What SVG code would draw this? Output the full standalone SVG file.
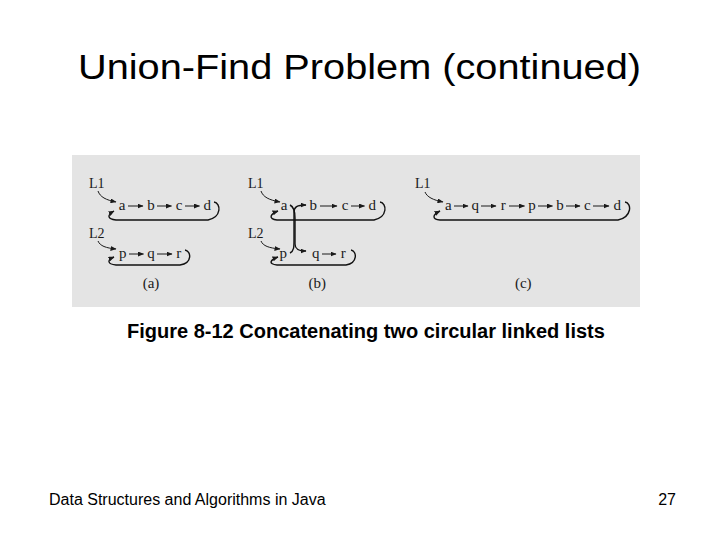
<svg xmlns="http://www.w3.org/2000/svg" width="720" height="540" viewBox="0 0 720 540">
<style>
.title{font-family:"Liberation Sans",Arial,sans-serif;font-size:35px;fill:#000}
.cap{font-family:"Liberation Sans",Arial,sans-serif;font-size:20px;font-weight:bold;fill:#000}
.foot{font-family:"Liberation Sans",Arial,sans-serif;font-size:16px;fill:#000}
.n{font-family:"Liberation Serif","Times New Roman",serif;font-size:15px;fill:#1a1a1a;text-anchor:middle}
.lbl{font-family:"Liberation Serif","Times New Roman",serif;font-size:14px;fill:#1a1a1a}
.ar{stroke:#1a1a1a;stroke-width:1;fill:none;marker-end:url(#ah)}
.lp{stroke:#111;stroke-width:1.4;fill:none;marker-end:url(#ah)}
</style>
<defs>
<marker id="ah" viewBox="0 0 6 5" refX="5.5" refY="2.5" markerWidth="6" markerHeight="5" markerUnits="userSpaceOnUse" orient="auto">
<path d="M0,0 L6,2.5 L0,5 Z" fill="#1a1a1a"/>
</marker>
</defs>
<rect width="720" height="540" fill="#fff"/>
<text class="title" x="78" y="79" textLength="563" lengthAdjust="spacingAndGlyphs">Union-Find Problem (continued)</text>
<rect id="figure-bg" x="72" y="155" width="568" height="152" fill="#e4e4e4"/>

<g id="connectors">
  <!-- panel a -->
  <path class="ar" d="M98,191 C100,197 106,200 116,202"/>
  <path class="ar" d="M128,206 L143,206"/>
  <path class="ar" d="M157,206 L171.5,206"/>
  <path class="ar" d="M185,206 L199.5,206"/>
  <path class="lp" d="M214,202 C221,203 222,217 208,220 L116,220 C107,219 107,215 114,211"/>
  <path class="ar" d="M98,241 C100,246 106,248 116,249"/>
  <path class="ar" d="M129,254 L143.5,254"/>
  <path class="ar" d="M157,254 L172,254"/>
  <path class="lp" d="M185,250 C191,251 193,263 180,265 L116,265 C107,264 107,260 114,257"/>
  <!-- panel b -->
  <path class="ar" d="M261,191 C263,197 269,200 280,202"/>
  <path class="lp" d="M290,205 C294,207 295,212 295,218 L295,244 C295,249 298,251 306,251"/>
  <path class="lp" d="M290,253 C294,251 294,247 294,240 L294,212 C294,207 297,205 306,205"/>
  <path class="ar" d="M320,206 L337,206"/>
  <path class="ar" d="M351,206 L364.5,206"/>
  <path class="lp" d="M380,202 C387,203 388,217 374,220 L277,220 C268,219 270,214 278,211"/>
  <path class="ar" d="M261,241 C263,246 269,248 280,249"/>
  <path class="ar" d="M322,254 L336,254"/>
  <path class="lp" d="M351,250 C357,251 358,263 346,265 L277,265 C268,264 270,260 278,257"/>
  <!-- panel c -->
  <path class="ar" d="M425,192 C427,197 433,200 443,202"/>
  <path class="ar" d="M454,206 L468,206"/>
  <path class="ar" d="M481,206 L496,206"/>
  <path class="ar" d="M509,206 L524.5,206"/>
  <path class="ar" d="M538,206 L552.5,206"/>
  <path class="ar" d="M566,206 L580,206"/>
  <path class="ar" d="M593,206 L609,206"/>
  <path class="lp" d="M625,202 C632,203 632,217 618,220 L440,220 C432,219 432,215 440,211"/>
</g>

<g id="panel-a">
  <g id="a-L1"><text class="lbl" x="89" y="188">L1</text></g>
  <g id="a-a"><text class="n" x="122" y="210">a</text></g>
  <g id="a-b"><text class="n" x="151" y="210">b</text></g>
  <g id="a-c"><text class="n" x="179" y="210">c</text></g>
  <g id="a-d"><text class="n" x="207.3" y="210">d</text></g>
  <g id="a-L2"><text class="lbl" x="89" y="238">L2</text></g>
  <g id="a-p"><text class="n" x="122.7" y="258">p</text></g>
  <g id="a-q"><text class="n" x="151" y="258">q</text></g>
  <g id="a-r"><text class="n" x="178.7" y="258">r</text></g>
  <text class="n" x="151" y="288">(a)</text>
</g>

<g id="panel-b">
  <g id="b-L1"><text class="lbl" x="248" y="188">L1</text></g>
  <g id="b-a"><text class="n" x="284" y="210">a</text></g>
  <g id="b-b"><text class="n" x="313.3" y="210">b</text></g>
  <g id="b-c"><text class="n" x="345" y="210">c</text></g>
  <g id="b-d"><text class="n" x="372.3" y="210">d</text></g>
  <g id="b-L2"><text class="lbl" x="248" y="238">L2</text></g>
  <g id="b-p"><text class="n" x="283.3" y="258">p</text></g>
  <g id="b-q"><text class="n" x="315.7" y="258">q</text></g>
  <g id="b-r"><text class="n" x="343.3" y="258">r</text></g>
  <text class="n" x="317.3" y="288">(b)</text>
</g>

<g id="panel-c">
  <g id="c-L1"><text class="lbl" x="415" y="188">L1</text></g>
  <g id="c-a"><text class="n" x="448.3" y="210">a</text></g>
  <g id="c-q"><text class="n" x="475.3" y="210">q</text></g>
  <g id="c-r"><text class="n" x="503.3" y="210">r</text></g>
  <g id="c-p"><text class="n" x="532" y="210">p</text></g>
  <g id="c-b"><text class="n" x="560" y="210">b</text></g>
  <g id="c-c"><text class="n" x="587.3" y="210">c</text></g>
  <g id="c-d"><text class="n" x="617.3" y="210">d</text></g>
  <text class="n" x="523.3" y="288">(c)</text>
</g>

<text class="cap" x="127" y="338">Figure 8-12 Concatenating two circular linked lists</text>
<text class="foot" x="49" y="505">Data Structures and Algorithms in Java</text>
<text class="foot" x="676" y="505" text-anchor="end">27</text>
</svg>
